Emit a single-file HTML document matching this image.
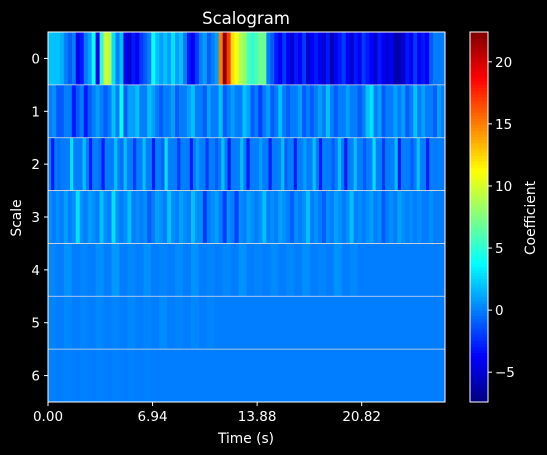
<!DOCTYPE html>
<html><head><meta charset="utf-8"><style>
body{margin:0;background:#000;}
svg{display:block;font-family:"DejaVu Sans","Liberation Sans",sans-serif;}
</style></head><body>
<svg id="c" width="547" height="455" viewBox="0 0 547 455">
<rect width="547" height="455" fill="#000"/>
<text x="246" y="24" fill="#fff" font-size="16.5" text-anchor="middle">Scalogram</text>
<g id="cells"></g>
<g id="axes"></g>
<g id="cbar"></g>
<text x="246" y="443" fill="#fff" font-size="13.8" text-anchor="middle">Time (s)</text>
<text x="21" y="218" fill="#fff" font-size="13.8" text-anchor="middle" transform="rotate(-90 21 218)">Scale</text>
<text x="535" y="218" fill="#fff" font-size="13.8" text-anchor="middle" transform="rotate(-90 535 218)">Coefficient</text>
</svg>
<script>
const scales=[0,1,2,3,4,5,6];
const xTicks=[0,6.94,13.88,20.82];
const xTickLabels=["0.00","6.94","13.88","20.82"];
const cbTicks=[-5,0,5,10,15,20];
const cbTickLabels=["\u22125","0","5","10","15","20"];
const vmin=-7.4, vmax=22.4, tMax=26.35;
const row0=[2,2,2,1.5,0,-1,0,-4,-3,0,1,4,-4,5,10,9,3,0,2,-4,-5,-3,-4,-2,-1,0,4,2,1,2,1,3,1,2,0,-3,-4,-2,0,1,-1,0,1,15,22,17,12,11,9,8,6,5,6,7,7,0,-1,-3,-4,-2,-4,-5,-3,-4,-2,-5,-4,-3,-4,-5,-3,-6,-4,-3,-2,-4,-5,-3,-4,-2,-3,-4,-5,-3,-4,-5,-4,-6,-6,-5,-3,-4,-2,-4,-3,-4,-1,0,0,0];
const row1=[0,0.5,-1,-1,0,0,-3,-1,0,-3,-1,0,1,0,-1,0,2,0,4,-1,1,1,2,0,0,2,1,0,-1,0,0,1,-1,0,0,1,2,0,0,-1,1,0,0,2,-1,0,1,0,0,2,1,-1,0,-2,0,1,-1,0,2,0,-1,0,0,1,-1,0,-1,0,1,0,2,0,-1,0,0,1,0,0,-1,0,2,3,0,1,-1,0,0,1,0,1,-1,0,2,0,1,0,0,-1,1,0];
const row2=[0,-3,0,-0.5,0,0,0,3,0,0,0,2,0,-3,0,0,-0.5,-3,0,0,0,2,0,-0.5,2,0,0,-2,0,0,2,0,0,-3,0,0,-1,3,0,0,0,-2,0,0,0,-3,0,1,0,0,-2,0,0,-1,0,2,0,-3,0,0,0,2,0,-3,0,0,0,1,0,0,-3,0,0,0,2,-1,0,0,-3,0,0,1,0,0,2,0,-3,0,0,0,-1,0,2,0,-3,0,0,2,0,0,-1,0,0,3,0,0,-2,0,0,0,2,-3,0,0,0,-1,0,2,0,0,-3,0,0,0,0,0];
const row3=[0.5,0,0.5,0,1,0,0.5,3,0.5,0,1,0.5,0,2,0.5,0,3,0.5,0,0.5,2,0,0.5,0,0.5,-1,0,1,0.5,0,2,0.5,0,1,0.5,0,2,0.5,0.5,-2,0,0.5,1,0,-2,0.5,0,-2,0.5,0,1,0.5,0,0.5,2,0,0.5,0,1,0.5,0,-1,0.5,0,0.5,2,0,0.5,0,-1,0.5,0,1,0.5,0,0.5,2,0,0.5,0,0.5,1,0,0.5,-1,0,0.5,0,1,0.5,0,0.5,0,0.5,0,0,0.5,0,0,0];
const row4=[0.3,0,0.6,0,0.2,0,0.5,0,0.8,0,0.3,0,0.5,0,0.2,0,0.4,0,0.6,0,0.2,0,0.3,0,0.6,0,0.2,0,0.4,0,0.3,0,0.5,0,0.2,0,0.6,0,0.3,0,0,0,0,0,0,0,0,0,0,0];
const row5=[0.2,0,0.3,0,0.2,0,0.3,0,0.2,0,0.3,0,0.2,0,0.4,0,0.2,0,0.3,0,0.2,0,0,0,0,0,0,0,0,0,0,0,0,0,0,0,0,0,0,0,0,0,0,0,0,0,0,0,0,0];
const row6=[0.1,0,0.1,0,0.1,0,0.1,0,0.1,0,0.1,0,0.1,0,0,0,0,0,0,0,0,0,0,0,0,0,0,0,0,0,0,0,0,0,0,0,0,0,0,0,0,0,0,0,0,0,0,0,0,0];
const rows=[row0,row1,row2,row3,row4,row5,row6];

const X0=48,X1=445,Y0=32,Y1=402;
const rowH=(Y1-Y0)/scales.length;
const xs=t=>X0+t/tMax*(X1-X0);
const ys=s=>Y0+s*rowH;
const cy=v=>Y1-(v-vmin)/(vmax-vmin)*(Y1-Y0);
function jet(v){
  const t=Math.max(0,Math.min(1,(v-vmin)/(vmax-vmin)));
  const c=x=>Math.round(255*Math.max(0,Math.min(1,x)));
  return `rgb(${c(1.5-Math.abs(4*t-3))},${c(1.5-Math.abs(4*t-2))},${c(1.5-Math.abs(4*t-1))})`;
}
const NS="http://www.w3.org/2000/svg";
function mk(tag,attrs,parent){const e=document.createElementNS(NS,tag);for(const k in attrs)e.setAttribute(k,attrs[k]);parent.appendChild(e);return e;}
const cells=document.getElementById('cells');
rows.forEach((r,ri)=>{
  const w=(X1-X0)/r.length;
  r.forEach((v,i)=>{
    const e=mk('rect',{x:(X0+i*w).toFixed(2),y:ys(ri).toFixed(2),width:(w+0.5).toFixed(2),height:rowH.toFixed(2),fill:jet(v)},cells);
    
    
  });
});
const axes=document.getElementById('axes');
for(let i=1;i<scales.length;i++){
  const e=mk('line',{x1:X0,x2:X1,y1:ys(i),y2:ys(i),stroke:'#ddd','stroke-width':0.8},axes);
  
  
}
const fr=mk('rect',{x:X0,y:Y0,width:X1-X0,height:Y1-Y0,fill:'none',stroke:'#fff','stroke-width':1},axes);


scales.forEach((s,i)=>{
  const y=ys(i)+rowH/2;
  mk('line',{x1:X0-4,x2:X0,y1:y,y2:y,stroke:'#fff'},axes);
  const t=mk('text',{x:X0-8,y:y+5,fill:'#fff','font-size':13.5,'text-anchor':'end'},axes);
  t.textContent=s;
  
  
});
xTicks.forEach((v,i)=>{
  const x=xs(v);
  mk('line',{x1:x,x2:x,y1:Y1,y2:Y1+4,stroke:'#fff'},axes);
  const t=mk('text',{x:x,y:Y1+19,fill:'#fff','font-size':13.5,'text-anchor':'middle'},axes);
  t.textContent=xTickLabels[i];
  
  
});
const cb=document.getElementById('cbar');
const CX0=470,CX1=488,N=120;
for(let i=0;i<N;i++){
  const v0=vmin+(vmax-vmin)*i/N, v1=vmin+(vmax-vmin)*(i+1)/N;
  const e=mk('rect',{x:CX0,y:cy(v1).toFixed(2),width:CX1-CX0,height:(cy(v0)-cy(v1)+0.5).toFixed(2),fill:jet((v0+v1)/2)},cb);
  
  
}
mk('rect',{x:CX0,y:Y0,width:CX1-CX0,height:Y1-Y0,fill:'none',stroke:'#fff'},cb);
cbTicks.forEach((v,i)=>{
  const y=cy(v);
  mk('line',{x1:CX1,x2:CX1+4,y1:y,y2:y,stroke:'#fff'},cb);
  const t=mk('text',{x:CX1+7,y:y+5,fill:'#fff','font-size':13.5},cb);
  t.textContent=cbTickLabels[i];
  
  
});
</script>
</body></html>
